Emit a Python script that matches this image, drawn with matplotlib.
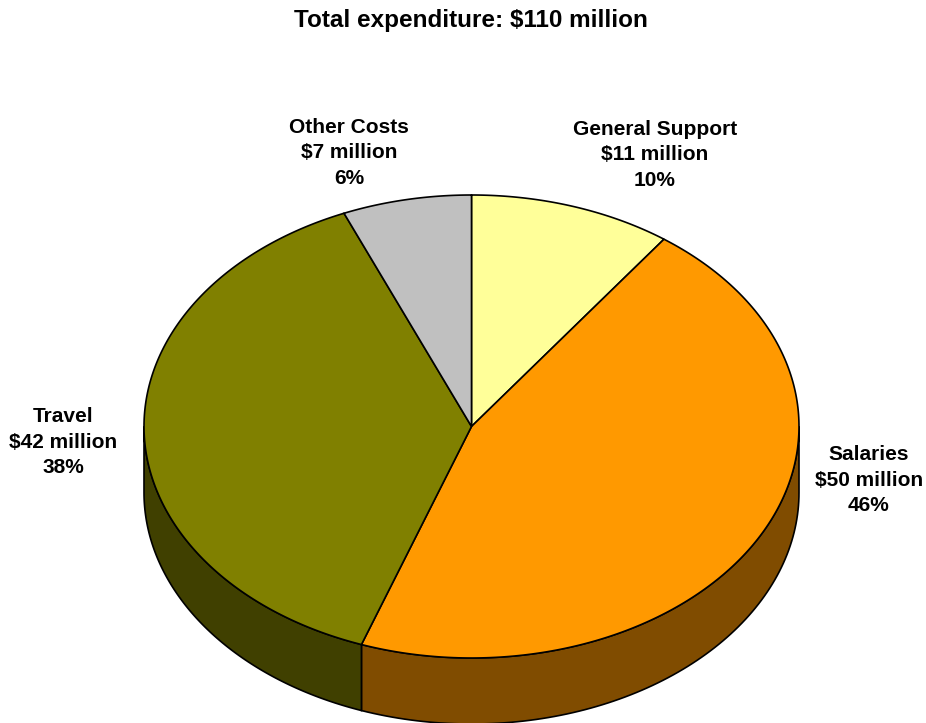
import numpy as np
import matplotlib.pyplot as plt
from matplotlib.patches import Polygon

categories = ['General Support', 'Salaries', 'Travel', 'Other Costs']
amounts = ['$11 million', '$50 million', '$42 million', '$7 million']
values = [11, 50, 42, 7]
percents = ['10%', '46%', '38%', '6%']

top_colors = ['#FFFF99', '#FF9900', '#808000', '#C0C0C0']
side_colors = ['#80804C', '#804C00', '#404000', '#606060']

# label centres (pixel coords)
label_pos = [(655, 155), (869, 480), (63, 442), (349, 153)]

plt.rcParams['font.family'] = ['Liberation Sans', 'DejaVu Sans']

fig = plt.figure(figsize=(9.26, 7.23), dpi=100)
ax = fig.add_axes([0, 0, 1, 1])
ax.set_xlim(0, 926)
ax.set_ylim(723, 0)
ax.axis('off')

cx, cy = 471.5, 426.5
rx, ry = 327.5, 231.5
depth = 66

def ell(t):
    t = np.radians(t)
    return cx + rx * np.cos(t), cy - ry * np.sin(t)

total = float(sum(values))
cum = np.concatenate([[0], np.cumsum(values)])
angles = 90 - cum / total * 360

# side walls (front half only)
for i in range(len(values)):
    t0, t1 = angles[i], angles[i + 1]
    for k in (-1, 0, 1):
        lo = max(t1, -180 + 360 * k)
        hi = min(t0, 360 * k)
        if hi - lo <= 0:
            continue
        ts = np.linspace(hi, lo, 100)
        x, y = ell(ts)
        pts = np.column_stack([np.concatenate([x, x[::-1]]),
                               np.concatenate([y, y[::-1] + depth])])
        ax.add_patch(Polygon(pts, closed=True, facecolor=side_colors[i],
                             edgecolor='black', linewidth=1.2, zorder=1))

# top face
for i in range(len(values)):
    ts = np.linspace(angles[i], angles[i + 1], 200)
    x, y = ell(ts)
    pts = np.column_stack([np.concatenate([[cx], x]), np.concatenate([[cy], y])])
    ax.add_patch(Polygon(pts, closed=True, facecolor=top_colors[i],
                         edgecolor='black', linewidth=1.2, zorder=2))

for i in range(len(values)):
    ax.text(label_pos[i][0], label_pos[i][1],
            f'{categories[i]}\n{amounts[i]}\n{percents[i]}',
            ha='center', va='center', fontsize=15, fontweight='bold',
            linespacing=1.46, zorder=3)

ax.text(471, 20, 'Total expenditure: $110 million', ha='center', va='center',
        fontsize=17.5, fontweight='bold')

fig.savefig('out.png', dpi=100)
